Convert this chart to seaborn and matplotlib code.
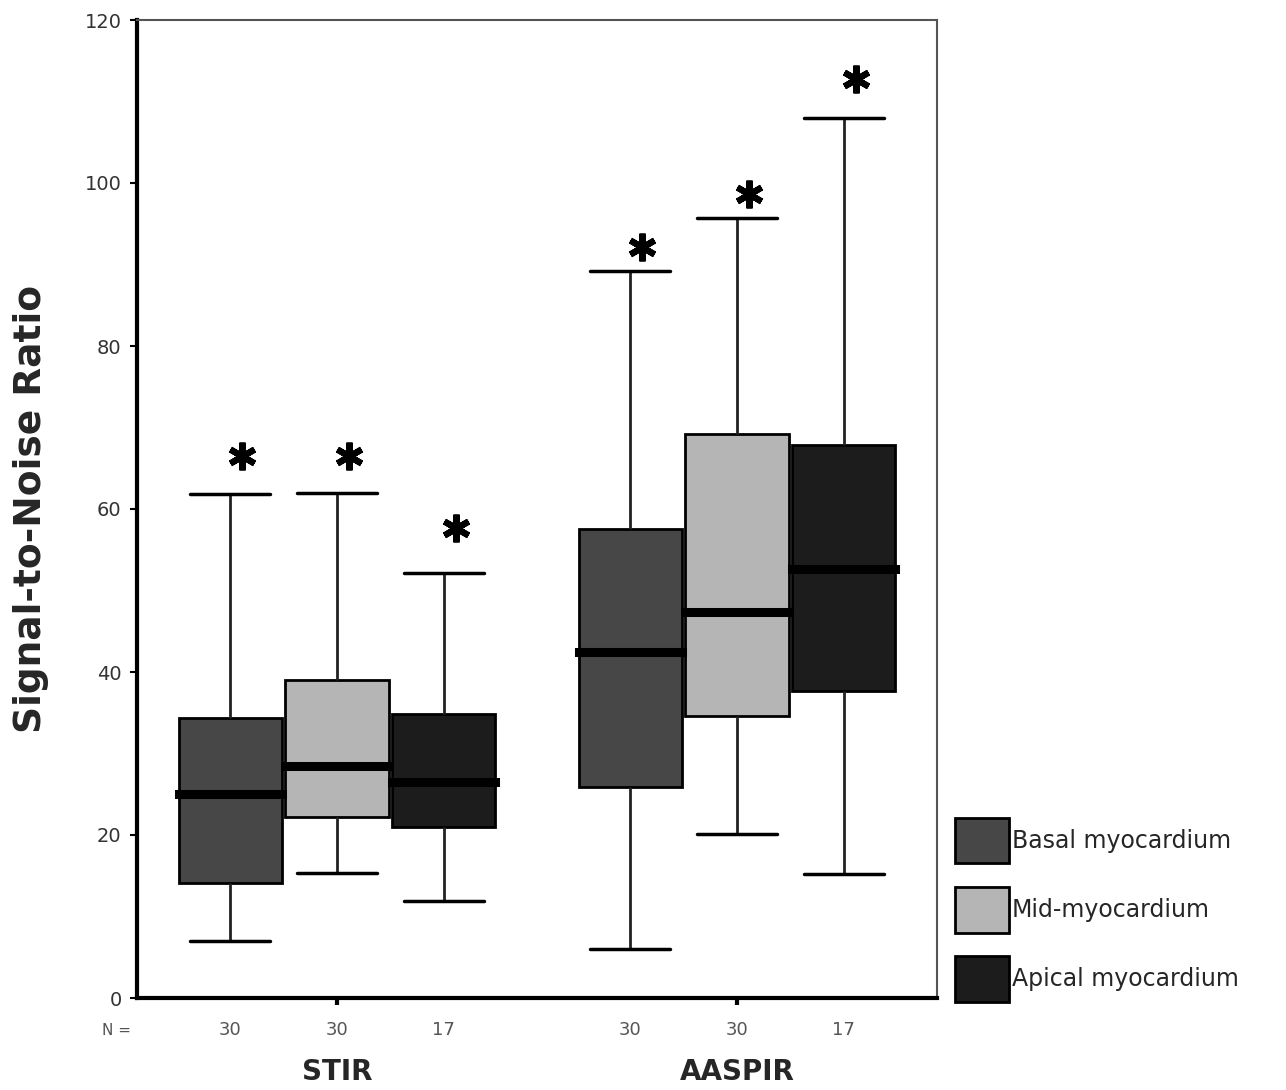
import numpy as np
import pandas as pd
import matplotlib
matplotlib.use('Agg')
import matplotlib.pyplot as plt
import matplotlib.patches as mpatches
import matplotlib.transforms as mtransforms
import seaborn as sns

sequences = ['STIR', 'AASPIR']
regions = ['Basal myocardium', 'Mid-myocardium', 'Apical myocardium']
n_counts = [30, 30, 17, 30, 30, 17]

# five-number summaries, order: STIR x3 regions, AASPIR x3 regions
whisk_lo = [7.0, 15.3, 11.9, 6.0, 20.1, 15.2]
q1 = [14.1, 22.2, 21.0, 25.9, 34.6, 37.7]
median = [25.0, 28.5, 26.5, 42.5, 47.4, 52.6]
q3 = [34.4, 39.0, 34.8, 57.5, 69.2, 67.9]
whisk_hi = [61.8, 62.0, 52.1, 89.2, 95.7, 108.0]
# asterisk heights
star_y = [66.5, 66.5, 57.7, 92.1, 98.7, 112.8]

colors = ['#474747', '#b5b5b5', '#1c1c1c']
palette = dict(zip(regions, colors))

# build long table: 5 points per box so quartiles land exactly on the read values
rows = []
k = 0
for s in sequences:
    for r in regions:
        for v in [whisk_lo[k], q1[k], median[k], q3[k], whisk_hi[k]]:
            rows.append({'Sequence': s, 'Region': r, 'SNR': v})
        k += 1
df = pd.DataFrame(rows)

sns.set_theme(style='white')
plt.rcParams['font.family'] = ['DejaVu Sans']

fig = plt.figure(figsize=(12.86, 10.90), dpi=100)
ax = fig.add_axes([137/1286, 92/1090, 800/1286, 978/1090])

sns.boxplot(data=df, x='Sequence', y='SNR', hue='Region', order=sequences,
            hue_order=regions, palette=palette, width=0.8, gap=0.03,
            whis=(0, 100), showfliers=False, linecolor='black', linewidth=2,
            medianprops={'linewidth': 6.5, 'color': 'black', 'solid_capstyle': 'projecting'},
            whiskerprops={'linewidth': 2, 'color': '#222222'},
            capprops={'linewidth': 2.5, 'color': 'black'},
            capwidths=0.2, legend=False, ax=ax)

offsets = np.array([-0.8/3, 0, 0.8/3])
xpos = np.concatenate([i + offsets for i in range(len(sequences))])

ax.plot(xpos + 0.03, star_y, ls='none', marker=(6, 2, 0), ms=20, mew=4.5,
        color='black', clip_on=False)

trans = mtransforms.blended_transform_factory(ax.transData, ax.transAxes)
for x, n in zip(xpos, n_counts):
    ax.text(x, -0.033, str(n), transform=trans, ha='center', va='center',
            fontsize=13, color='#555555', clip_on=False)
ax.text(-0.55, -0.033, 'N =', transform=trans, ha='center', va='center',
        fontsize=11, color='#555555', clip_on=False)

ax.set_xlim(-0.5, 1.5)
ax.set_ylim(0, 120)
ax.set_yticks(range(0, 121, 20))
ax.tick_params(axis='y', labelsize=14, labelcolor='#333333', length=5, width=1.5,
               direction='out', left=True, color='black', pad=6)
ax.tick_params(axis='x', length=5, width=3, direction='out', bottom=True,
               color='black', pad=38, labelsize=20)
for lab in ax.get_xticklabels():
    lab.set_fontweight('bold')
ax.set_xlabel('')
ax.set_ylabel('Signal-to-Noise Ratio', fontsize=27, fontweight='bold', labelpad=26)

for side in ['left', 'bottom']:
    ax.spines[side].set_linewidth(3)
    ax.spines[side].set_color('black')
for side in ['top', 'right']:
    ax.spines[side].set_linewidth(1.5)
    ax.spines[side].set_color('#555555')

handles = [mpatches.Patch(facecolor=palette[r], edgecolor='black', linewidth=2)
           for r in regions]
fig.legend(handles, regions, loc='lower left', bbox_to_anchor=(955/1286, 88/1090),
           frameon=False, fontsize=17, handlelength=2.3, handleheight=2.6,
           labelspacing=1.0, handletextpad=0.1, borderpad=0, borderaxespad=0)

fig.savefig('out.png', dpi=100, facecolor='white')
